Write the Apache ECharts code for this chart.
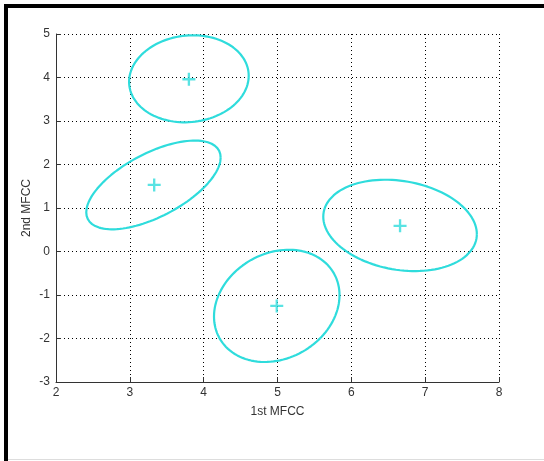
<!DOCTYPE html>
<html>
<head>
<meta charset="utf-8">
<script src="https://cdn.jsdelivr.net/npm/echarts@6/dist/echarts.min.js"></script>
<style>
	html, body { margin: 0; padding: 0; background: #fff; }
	#wrap { position: relative; width: 544px; height: 461px; overflow: hidden; }
	#chart { position: absolute; left: 0; top: 0; width: 544px; height: 461px; }
	.bar { position: absolute; background: #000; }
</style>
</head>
<body>
<div id="wrap">
	<div id="chart"></div>
	<div class="bar" style="left:4px;top:4px;width:4px;height:457px;"></div>
	<div class="bar" style="left:4px;top:4px;width:540px;height:4px;"></div>
	<div class="bar" style="left:8px;top:459px;width:536px;height:1px;background:#ddd;"></div>
</div>
<script>
// cluster means (1st MFCC, 2nd MFCC)
let meanX = [3.8, 3.33, 6.66, 4.99]
let meanY = [3.96, 1.53, 0.59, -1.25]
// ellipse: centre, half extent along x, half extent along y, phase (deg) between x and y
let ellCenterX = [3.8, 3.32, 6.66, 4.99]
let ellCenterY = [3.97, 1.53, 0.6, -1.25]
let halfX = [0.81, 0.91, 1.04, 0.85]
let halfY = [1.0, 1.02, 1.05, 1.29]
let phase = [86, 52, 101, 79]

let cyan = '#2fdcdc'

function ellipse(i) {
	let pts = []
	let n = 120
	let p = phase[i] * Math.PI / 180
	for (let k = 0; k <= n; k++) {
		let t = k / n * 2 * Math.PI
		pts.push([ellCenterX[i] + halfX[i] * Math.cos(t), ellCenterY[i] + halfY[i] * Math.cos(t - p)])
	}
	return pts
}

let series = []
meanX.forEach(function(item, index) {
	series.push({
		type: 'line',
		data: ellipse(index),
		showSymbol: false,
		lineStyle: { color: cyan, width: 2.2 },
		silent: true,
		z: 3
	})
})
series.push({
	type: 'scatter',
	data: meanX.map(function(x, i) { return [x, meanY[i]] }),
	symbol: 'path://M4.1,0h1.8v4.1h4.1v1.8h-4.1v4.1h-1.8v-4.1h-4.1v-1.8h4.1z',
	symbolSize: 13,
	itemStyle: { color: cyan },
	z: 4
})

let axisCommon = {
	axisLine: { show: true, onZero: false, lineStyle: { color: '#333', width: 1 } },
	axisTick: { show: true, inside: true, length: 5, lineStyle: { color: '#333' } },
	axisLabel: { color: '#333', fontSize: 12, fontFamily: 'Liberation Sans' },
	splitLine: { show: true, lineStyle: { color: '#000', width: 1, type: [1, 3] } },
	nameTextStyle: { color: '#333', fontSize: 12, fontFamily: 'Liberation Sans' },
	nameMoveOverlap: false
}

var chart = echarts.init(document.getElementById('chart'))
chart.setOption({
	animation: false,
	backgroundColor: '#fff',
	grid: {
		left: 56,
		right: 45,
		top: 34,
		bottom: 79,
		containLabel: false
	},
	xAxis: Object.assign({}, axisCommon, {
		type: 'value',
		min: 2,
		max: 8,
		interval: 1,
		name: '1st MFCC',
		nameLocation: 'middle',
		nameGap: 24,
		axisLabel: Object.assign({}, axisCommon.axisLabel, { margin: 5 })
	}),
	yAxis: Object.assign({}, axisCommon, {
		type: 'value',
		min: -3,
		max: 5,
		interval: 1,
		name: '2nd MFCC',
		nameLocation: 'middle',
		nameGap: 23,
		axisLabel: Object.assign({}, axisCommon.axisLabel, { margin: 6 })
	}),
	series: series
})
</script>
</body>
</html>
